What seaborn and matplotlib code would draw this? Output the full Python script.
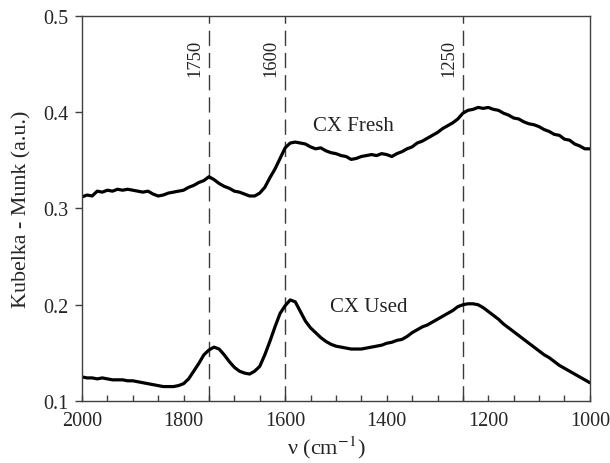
import numpy as np
import pandas as pd
import matplotlib
matplotlib.use("Agg")
import matplotlib.pyplot as plt
import seaborn as sns

# Wavenumber grid (cm^-1), 2000 -> 1000 in steps of 10
wavenumber = list(range(2000, 999, -10))

cx_fresh = [
    0.312, 0.314, 0.313, 0.318, 0.317, 0.319, 0.318, 0.320, 0.319, 0.320,
    0.319, 0.318, 0.317, 0.318, 0.315, 0.313, 0.314, 0.316, 0.317, 0.318,
    0.319, 0.322, 0.324, 0.327, 0.329, 0.333, 0.330, 0.326, 0.323, 0.321,
    0.318, 0.317, 0.315, 0.313, 0.313, 0.316, 0.322, 0.332, 0.341, 0.352,
    0.363, 0.368, 0.369, 0.368, 0.367, 0.364, 0.362, 0.363, 0.360, 0.358,
    0.357, 0.355, 0.354, 0.351, 0.352, 0.354, 0.355, 0.356, 0.355, 0.357,
    0.356, 0.354, 0.357, 0.359, 0.362, 0.364, 0.368, 0.370, 0.373, 0.376,
    0.379, 0.383, 0.386, 0.389, 0.393, 0.399, 0.402, 0.403, 0.405, 0.404,
    0.405, 0.403, 0.402, 0.399, 0.397, 0.394, 0.393, 0.390, 0.388, 0.387,
    0.385, 0.382, 0.380, 0.377, 0.376, 0.372, 0.371, 0.367, 0.365, 0.362,
    0.362,
]

cx_used = [
    0.125, 0.124, 0.124, 0.123, 0.124, 0.123, 0.122, 0.122, 0.122, 0.121,
    0.121, 0.120, 0.119, 0.118, 0.117, 0.116, 0.115, 0.115, 0.115, 0.116,
    0.118, 0.123, 0.131, 0.139, 0.148, 0.153, 0.156, 0.154, 0.148, 0.141,
    0.135, 0.131, 0.129, 0.128, 0.131, 0.136, 0.148, 0.162, 0.177, 0.191,
    0.199, 0.205, 0.203, 0.193, 0.183, 0.176, 0.171, 0.166, 0.162, 0.159,
    0.157, 0.156, 0.155, 0.154, 0.154, 0.154, 0.155, 0.156, 0.157, 0.158,
    0.160, 0.161, 0.163, 0.164, 0.167, 0.171, 0.174, 0.177, 0.179, 0.182,
    0.185, 0.188, 0.191, 0.194, 0.198, 0.200, 0.201, 0.201, 0.200, 0.197,
    0.193, 0.189, 0.185, 0.180, 0.176, 0.172, 0.168, 0.164, 0.160, 0.156,
    0.152, 0.148, 0.145, 0.141, 0.137, 0.134, 0.131, 0.128, 0.125, 0.122,
    0.119,
]

band_positions = [1750, 1600, 1250]
band_labels = ["1750", "1600", "1250"]

series_labels = ["CX Fresh", "CX Used"]
series_label_pos = [(1545, 0.386), (1512, 0.198)]

x_ticks = [2000, 1800, 1600, 1400, 1200, 1000]
y_ticks = [0.1, 0.2, 0.3, 0.4, 0.5]

df = pd.DataFrame({
    "nu": wavenumber * 2,
    "km": cx_fresh + cx_used,
    "sample": ["CX Fresh"] * len(wavenumber) + ["CX Used"] * len(wavenumber),
})

sns.set_theme(style="ticks")
plt.rcParams["font.family"] = ["Liberation Serif", "DejaVu Serif"]
plt.rcParams["mathtext.fontset"] = "stix"

fig = plt.figure(figsize=(6.1, 4.64), dpi=100)
ax = fig.add_axes([0.1344, 0.1336, 0.8326, 0.8298])

sns.lineplot(data=df, x="nu", y="km", units="sample", estimator=None,
             color="black", lw=2.3, ax=ax, legend=False)

# Dashed markers for the characteristic bands
for pos, lab in zip(band_positions, band_labels):
    ax.axvline(pos, color="#3a3a3a", lw=1.0, dashes=(11, 5), zorder=1)
    ax.annotate(lab, xy=(pos, 0.476), xytext=(-4, 0), textcoords="offset points",
                rotation=90, ha="right", va="top", fontsize=13.3, color="#222222")

for lab, (xx, yy) in zip(series_labels, series_label_pos):
    ax.text(xx, yy, lab, ha="left", va="center", fontsize=15, color="#222222")

ax.set_xlim(2000, 1000)
ax.set_ylim(0.1, 0.5)
ax.set_xticks(x_ticks)
ax.set_xticks(list(range(2000, 999, -50)), minor=True)
ax.set_yticks(y_ticks)
ax.set_yticklabels([f"{v:.1f}" for v in y_ticks])

ax.tick_params(axis="x", which="both", direction="in", length=4, width=1,
               color="#404040", labelsize=14.5, pad=7)
ax.tick_params(axis="y", which="both", direction="out", length=5, width=1,
               color="#404040", labelsize=14.5, pad=5)
for side in ["top", "right", "bottom", "left"]:
    ax.spines[side].set_visible(True)
    ax.spines[side].set_color("#404040")
    ax.spines[side].set_linewidth(1.0)

ax.set_xlabel(r"ν (cm$^{-1}$)", fontsize=16, labelpad=5)
ax.xaxis.set_label_coords(0.48, -0.085)
ax.set_ylabel("Kubelka - Munk (a.u.)", fontsize=15.8, labelpad=8)

fig.savefig("out.png", dpi=100)
